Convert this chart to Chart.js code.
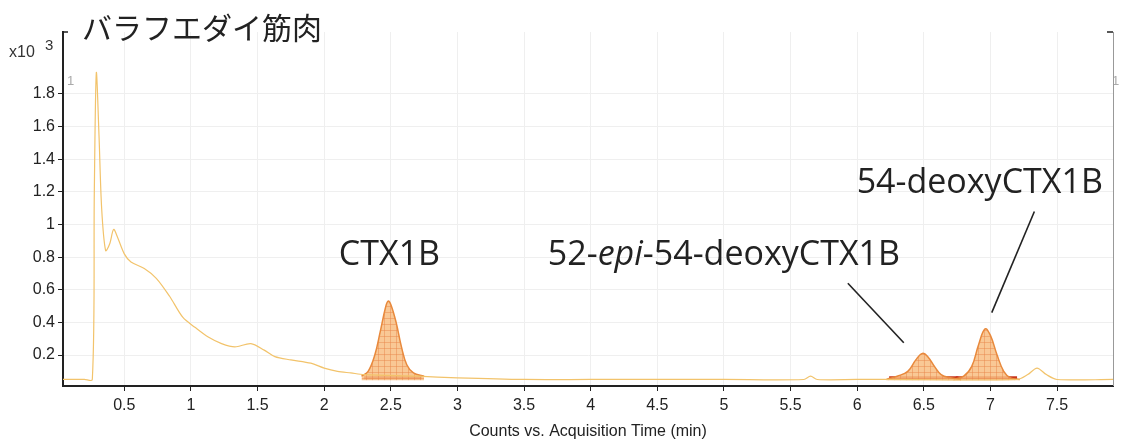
<!DOCTYPE html>
<html>
<head>
<meta charset="utf-8">
<script src="https://cdn.jsdelivr.net/npm/chart.js@4/dist/chart.umd.min.js"></script>
<style>
  html, body { margin: 0; padding: 0; background: #fff; }
  #wrap { width: 1126px; height: 441px; position: relative; }
</style>
</head>
<body>
<div id="wrap"><canvas id="chromChart" width="1126" height="441"></canvas></div>
<script>
// main trace (x: min, y: counts x10^3)
const traceTime = [0.04, 0.1, 0.2, 0.26, 0.275, 0.29, 0.31, 0.33, 0.36, 0.39, 0.42, 0.45, 0.5, 0.55, 0.65, 0.74, 0.84, 0.94, 1.03, 1.13, 1.23, 1.33, 1.45, 1.55, 1.63, 1.75, 1.9, 2.0, 2.1, 2.2, 2.3, 2.7, 3.0, 3.5, 4.0, 4.5, 5.0, 5.6, 5.65, 5.7, 6.0, 6.2, 7.2, 7.28, 7.35, 7.42, 7.5, 7.92];
const traceCounts = [0.05, 0.05, 0.05, 0.05, 1.2, 1.93, 1.55, 1.1, 0.84, 0.88, 0.97, 0.92, 0.82, 0.77, 0.73, 0.67, 0.56, 0.43, 0.37, 0.31, 0.27, 0.25, 0.27, 0.23, 0.19, 0.17, 0.15, 0.12, 0.1, 0.09, 0.08, 0.07, 0.06, 0.05, 0.05, 0.05, 0.05, 0.05, 0.07, 0.05, 0.05, 0.05, 0.05, 0.08, 0.12, 0.08, 0.05, 0.05];

// integrated peaks
const ctxTime = [2.28, 2.33, 2.38, 2.42, 2.46, 2.48, 2.5, 2.54, 2.58, 2.62, 2.67, 2.75];
const ctxCounts = [0.07, 0.1, 0.2, 0.34, 0.49, 0.53, 0.51, 0.4, 0.25, 0.14, 0.09, 0.07];
const epiTime = [6.22, 6.3, 6.38, 6.44, 6.49, 6.53, 6.58, 6.63, 6.7, 6.78];
const epiCounts = [0.05, 0.07, 0.1, 0.17, 0.21, 0.19, 0.13, 0.08, 0.06, 0.05];
const deoxyTime = [6.72, 6.8, 6.86, 6.91, 6.96, 7.0, 7.05, 7.1, 7.15, 7.22];
const deoxyCounts = [0.05, 0.07, 0.13, 0.26, 0.36, 0.32, 0.2, 0.1, 0.06, 0.05];

const xTicks = [0.5, 1, 1.5, 2, 2.5, 3, 3.5, 4, 4.5, 5, 5.5, 6, 6.5, 7, 7.5];
const yTicks = [0.2, 0.4, 0.6, 0.8, 1, 1.2, 1.4, 1.6, 1.8];

const peakLabels = [
  { parts: [['CTX1B', '']], x: 2.49, y: 0.81 },
  { parts: [['52-', ''], ['epi', 'italic '], ['-54-deoxyCTX1B', '']], x: 5.0, y: 0.81 },
  { parts: [['54-deoxyCTX1B', '']], x: 6.92, y: 1.25 }
];
const leaders = [
  [5.93, 0.64, 6.35, 0.275],
  [7.33, 1.08, 7.01, 0.46]
];

const pts = (xs, ys) => xs.map((x, i) => ({ x: x, y: ys[i] }));

// hatched orange fill like the integration shading
function hatch() {
  const c = document.createElement('canvas');
  c.width = 6; c.height = 6;
  const g = c.getContext('2d');
  g.fillStyle = 'rgba(248,190,130,0.85)';
  g.fillRect(0, 0, 6, 6);
  g.strokeStyle = 'rgba(230,130,70,0.45)';
  g.lineWidth = 1;
  g.beginPath();
  g.moveTo(0, 0.5); g.lineTo(6, 0.5);
  g.moveTo(0.5, 0); g.lineTo(0.5, 6);
  g.stroke();
  return g.createPattern(c, 'repeat');
}
const peakFill = hatch();

function peak(xs, ys) {
  return {
    data: pts(xs, ys),
    borderColor: '#e8893c',
    borderWidth: 1.5,
    backgroundColor: peakFill,
    fill: { value: 0.045 },
    pointRadius: 0,
    tension: 0.4
  };
}
function base(xs) {
  return {
    data: [{ x: xs[0] + 0.02, y: 0.06 }, { x: xs[xs.length - 1] - 0.02, y: 0.06 }],
    borderColor: '#c8361c',
    borderWidth: 3,
    pointRadius: 0,
    fill: false
  };
}

const extras = {
  id: 'extras',
  afterDraw(chart) {
    const ctx = chart.ctx;
    const xs = chart.scales.x, ys = chart.scales.y;
    const a = chart.chartArea;
    ctx.save();
    // title
    ctx.fillStyle = '#222';
    ctx.font = '30px "Noto Sans CJK JP"';
    ctx.textBaseline = 'alphabetic';
    ctx.textAlign = 'left';
    ctx.fillText('バラフエダイ筋肉', 82, 39);
    // exponent
    ctx.fillStyle = '#333';
    ctx.font = '16px "Liberation Sans", Arial';
    ctx.fillText('x10', 9, 57);
    ctx.font = '15px "Liberation Sans", Arial';
    ctx.fillText('3', 45, 50);
    // trace ids
    ctx.fillStyle = '#aaa';
    ctx.font = '13px "Liberation Sans", Arial';
    ctx.fillText('1', 67, 85);
    ctx.fillText('1', 1112, 85);
    // frame bits
    ctx.strokeStyle = '#222';
    ctx.lineWidth = 1.5;
    ctx.beginPath();
    ctx.moveTo(a.left - 1, a.top); ctx.lineTo(a.left + 5, a.top);
    ctx.moveTo(a.right - 6, a.top); ctx.lineTo(a.right, a.top);
    ctx.stroke();
    ctx.strokeStyle = '#999';
    ctx.lineWidth = 1;
    ctx.beginPath();
    ctx.moveTo(a.right + 0.5, a.top); ctx.lineTo(a.right + 0.5, a.bottom);
    ctx.stroke();
    // leader lines
    ctx.strokeStyle = '#222';
    ctx.lineWidth = 1.6;
    leaders.forEach(l => {
      ctx.beginPath();
      ctx.moveTo(xs.getPixelForValue(l[0]), ys.getPixelForValue(l[1]));
      ctx.lineTo(xs.getPixelForValue(l[2]), ys.getPixelForValue(l[3]));
      ctx.stroke();
    });
    // peak names
    ctx.fillStyle = '#222';
    ctx.textBaseline = 'middle';
    peakLabels.forEach(p => {
      const size = 34;
      let w = 0;
      p.parts.forEach(([t, st]) => {
        ctx.font = st + size + 'px "Open Sans"';
        w += ctx.measureText(t).width;
      });
      let cx = xs.getPixelForValue(p.x) - w / 2;
      const cy = ys.getPixelForValue(p.y);
      p.parts.forEach(([t, st]) => {
        ctx.font = st + size + 'px "Open Sans"';
        ctx.fillText(t, cx, cy);
        cx += ctx.measureText(t).width;
      });
    });
    ctx.restore();
  }
};

new Chart(document.getElementById('chromChart'), {
  type: 'line',
  data: {
    datasets: [
      {
        data: pts(traceTime, traceCounts),
        borderColor: '#f2c36b',
        borderWidth: 1.2,
        pointRadius: 0,
        fill: false,
        tension: 0.3
      },
      peak(ctxTime, ctxCounts),
      peak(epiTime, epiCounts),
      peak(deoxyTime, deoxyCounts),
      base(ctxTime),
      base(epiTime),
      base(deoxyTime)
    ]
  },
  options: {
    responsive: false,
    animation: false,
    layout: { padding: { top: 32, right: 13, left: 0, bottom: 0 } },
    plugins: { legend: { display: false }, tooltip: { enabled: false } },
    scales: {
      x: {
        type: 'linear',
        min: 0.04,
        max: 7.92,
        afterBuildTicks: s => { s.ticks = xTicks.map(v => ({ value: v })); },
        afterFit: s => { s.height = 55; },
        ticks: {
          color: '#222',
          font: { family: '"Liberation Sans Narrow", "Liberation Sans", Arial', size: 16 },
          padding: 5,
          maxRotation: 0,
          callback: v => String(v)
        },
        grid: { color: '#efefef', tickColor: '#222', tickLength: 5 },
        border: { color: '#222', width: 2 },
        title: {
          display: true,
          text: 'Counts vs. Acquisition Time (min)',
          color: '#222',
          font: { family: '"Liberation Sans Narrow", "Liberation Sans", Arial', size: 16 },
          padding: { top: 0, bottom: 0 }
        }
      },
      y: {
        type: 'linear',
        min: 0.01,
        max: 2.18,
        afterBuildTicks: s => { s.ticks = yTicks.map(v => ({ value: v })); },
        afterFit: s => { s.width = 63; },
        ticks: {
          color: '#222',
          font: { family: '"Liberation Sans", Arial', size: 16 },
          padding: 3,
          callback: v => String(v)
        },
        grid: { color: '#efefef', tickColor: '#222', tickLength: 5 },
        border: { color: '#222', width: 2 }
      }
    }
  },
  plugins: [extras]
});
</script>
</body>
</html>
